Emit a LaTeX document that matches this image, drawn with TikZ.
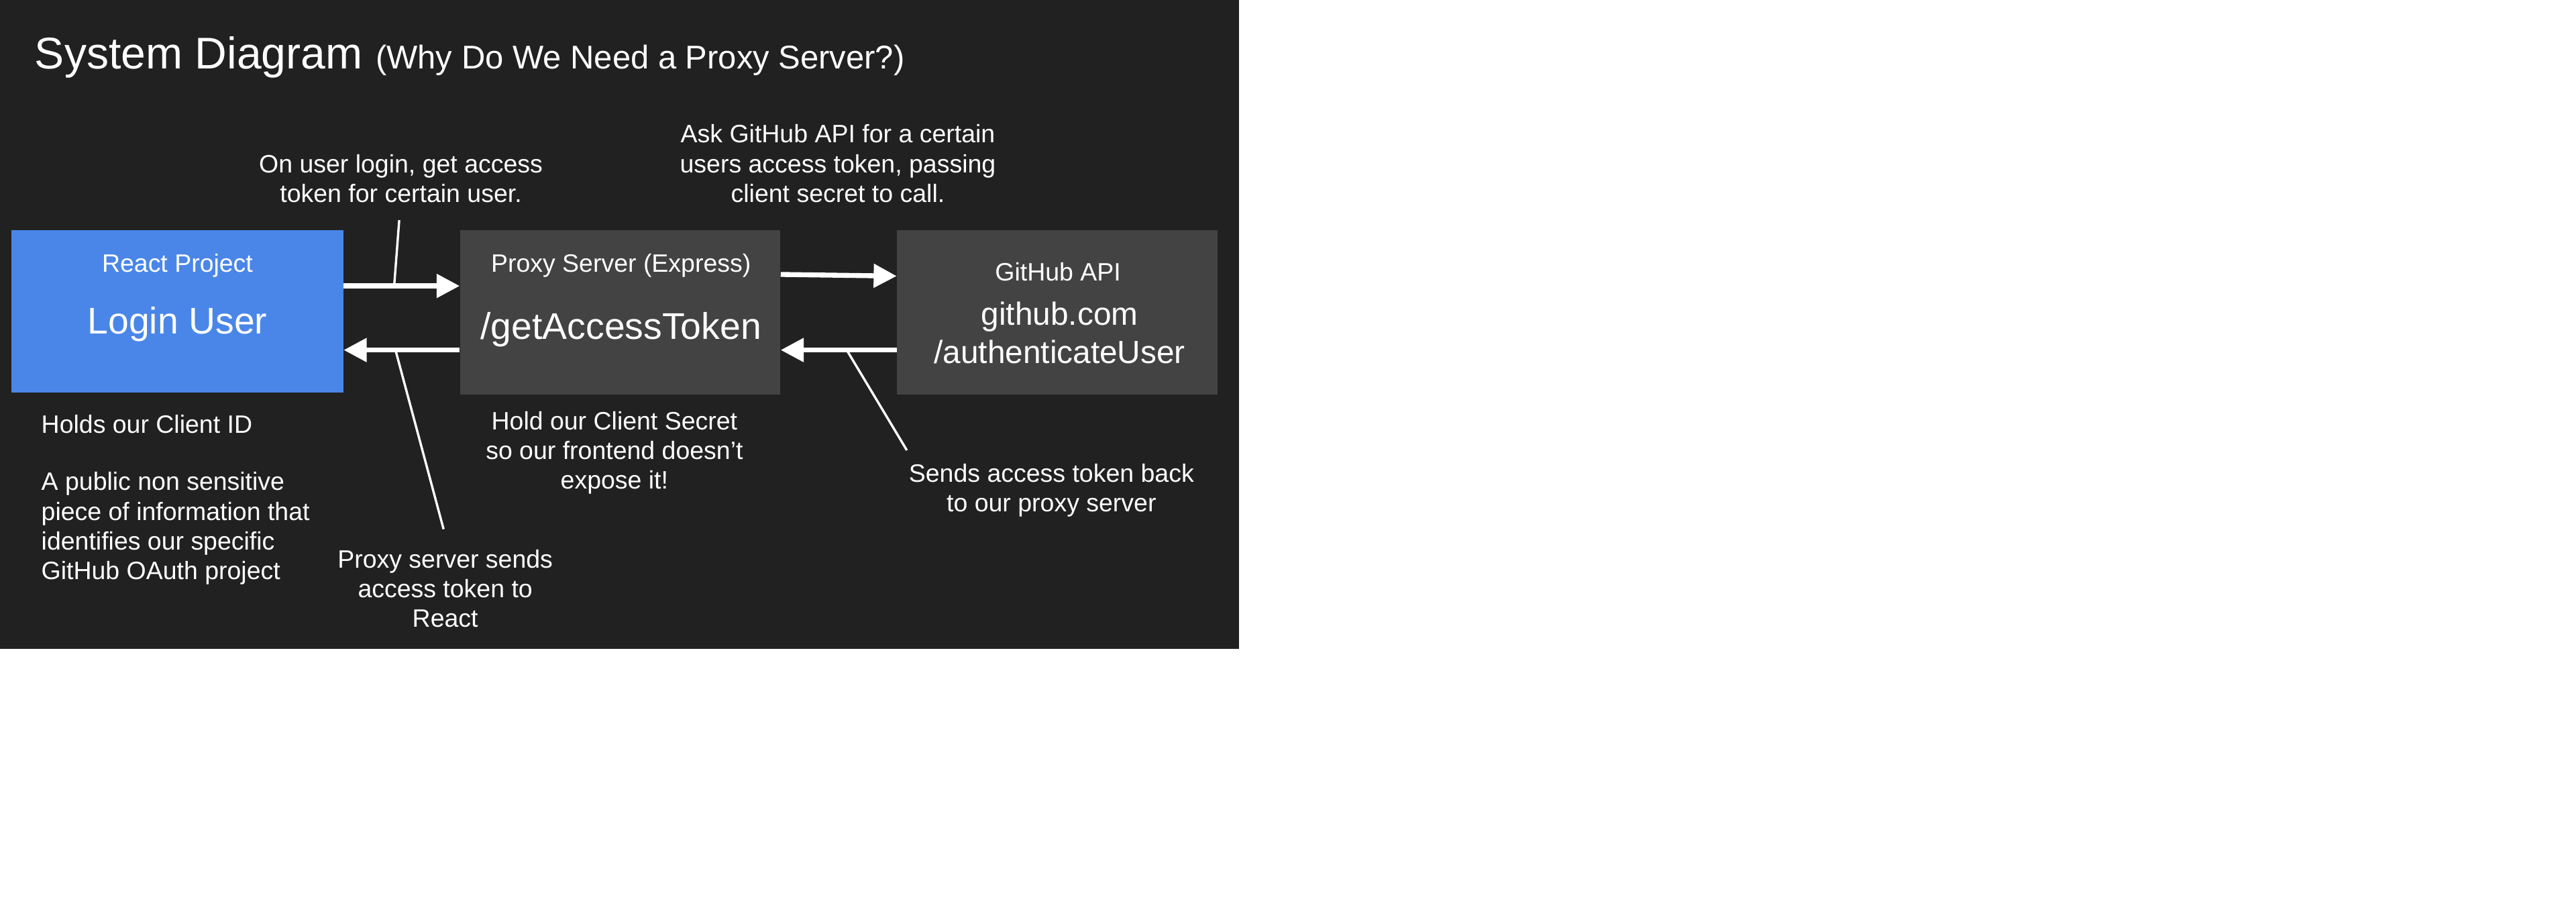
\documentclass[tikz,border=0pt]{standalone}
\usepackage{fontspec}
\setmainfont{Liberation Sans}
\usetikzlibrary{arrows.meta}
\definecolor{bgdark}{HTML}{212121}
\definecolor{boxgray}{HTML}{434343}
\definecolor{boxblue}{HTML}{4A86E8}
\tikzset{
  x=1pt, y=-1pt,
  boxnode/.style={draw=none, minimum width=195pt, minimum height=100pt, inner sep=0pt, fill=boxgray},
  small/.style={text=white, font=\fontsize{15.3}{18}\selectfont, inner sep=0pt},
  big/.style={text=white, font=\fontsize{22.6}{26}\selectfont, inner sep=0pt},
  mid/.style={text=white, font=\fontsize{19.5}{23.5}\selectfont, inner sep=0pt, align=center},
  note/.style={text=white, font=\fontsize{15.3}{18}\selectfont, inner sep=0pt, align=center},
  notel/.style={text=white, font=\fontsize{15.3}{18}\selectfont, inner sep=0pt, align=left},
  arr/.style={draw=white, line width=3pt, -{Triangle[length=14pt,width=14pt]}},
  pointer/.style={draw=white, line width=1.4pt}
}
\begin{document}
\begin{tikzpicture}
\useasboundingbox (0,0) rectangle (1568,562);
\fill[white] (0,0) rectangle (1568,562);
\fill[bgdark] (0,0) rectangle (754,395);

\node[anchor=base west, text=white, inner sep=0pt] (title) at (21,42)
  {{\fontsize{27}{32}\selectfont System Diagram}\hspace{8pt}{\fontsize{20}{24}\selectfont(Why Do We Need a Proxy Server?)}};

% boxes
\node[boxnode, fill=boxblue, minimum width=202pt, minimum height=99pt] (react) at (108,189.5) {};
\node[boxnode] (proxy) at (377.5,190) {};
\node[boxnode] (github) at (643.5,190) {};

\node[small] (reactT) at (108,161.5) {React Project};
\node[big] (reactM) at (108,197.5) {Login User};
\node[small] (proxyT) at (378,161.5) {Proxy Server (Express)};
\node[big] (proxyM) at (378,200.5) {/getAccessToken};
\node[small] (githubT) at (644,165.5) {GitHub API};
\node[mid] (githubM) at (645,202.5) {github.com\\/authenticateUser};

% arrows
\draw[arr] ([yshift=15.5pt]react.east) -- ([yshift=16pt]proxy.west);
\draw[arr] ([yshift=-23pt]proxy.west) -- ([yshift=-23.5pt]react.east);
\draw[arr] ([yshift=23pt]proxy.east) -- ([yshift=22pt]github.west);
\draw[arr] ([yshift=-23pt]github.west) -- ([yshift=-23pt]proxy.east);

% annotations
\node[note] (login) at (244,108.5) {On user login, get access\\token for certain user.};
\node[note] (ask) at (510,99.5) {Ask GitHub API for a certain\\users access token, passing\\client secret to call.};
\node[notel, anchor=west] (holds) at (25,258) {Holds our Client ID};
\node[notel, anchor=west] (public) at (25,321.5) {A public non sensitive\\piece of information that\\identifies our specific\\GitHub OAuth project};
\node[note] (secret) at (374,275.5) {Hold our Client Secret\\so our frontend doesn’t\\expose it!};
\node[note] (sends) at (271,358) {Proxy server sends\\access token to\\React};
\node[note] (back) at (640,298.5) {Sends access token back\\to our proxy server};

% pointer lines
\coordinate (p1a) at (243,134);
\coordinate (p1b) at (240,173);
\coordinate (p2a) at (241,214);
\coordinate (p2b) at (270,322);
\coordinate (p3a) at (516,214);
\coordinate (p3b) at (552,274);
\draw[pointer] (p1a) -- (p1b);
\draw[pointer] (p2a) -- (p2b);
\draw[pointer] (p3a) -- (p3b);
\end{tikzpicture}
\end{document}
